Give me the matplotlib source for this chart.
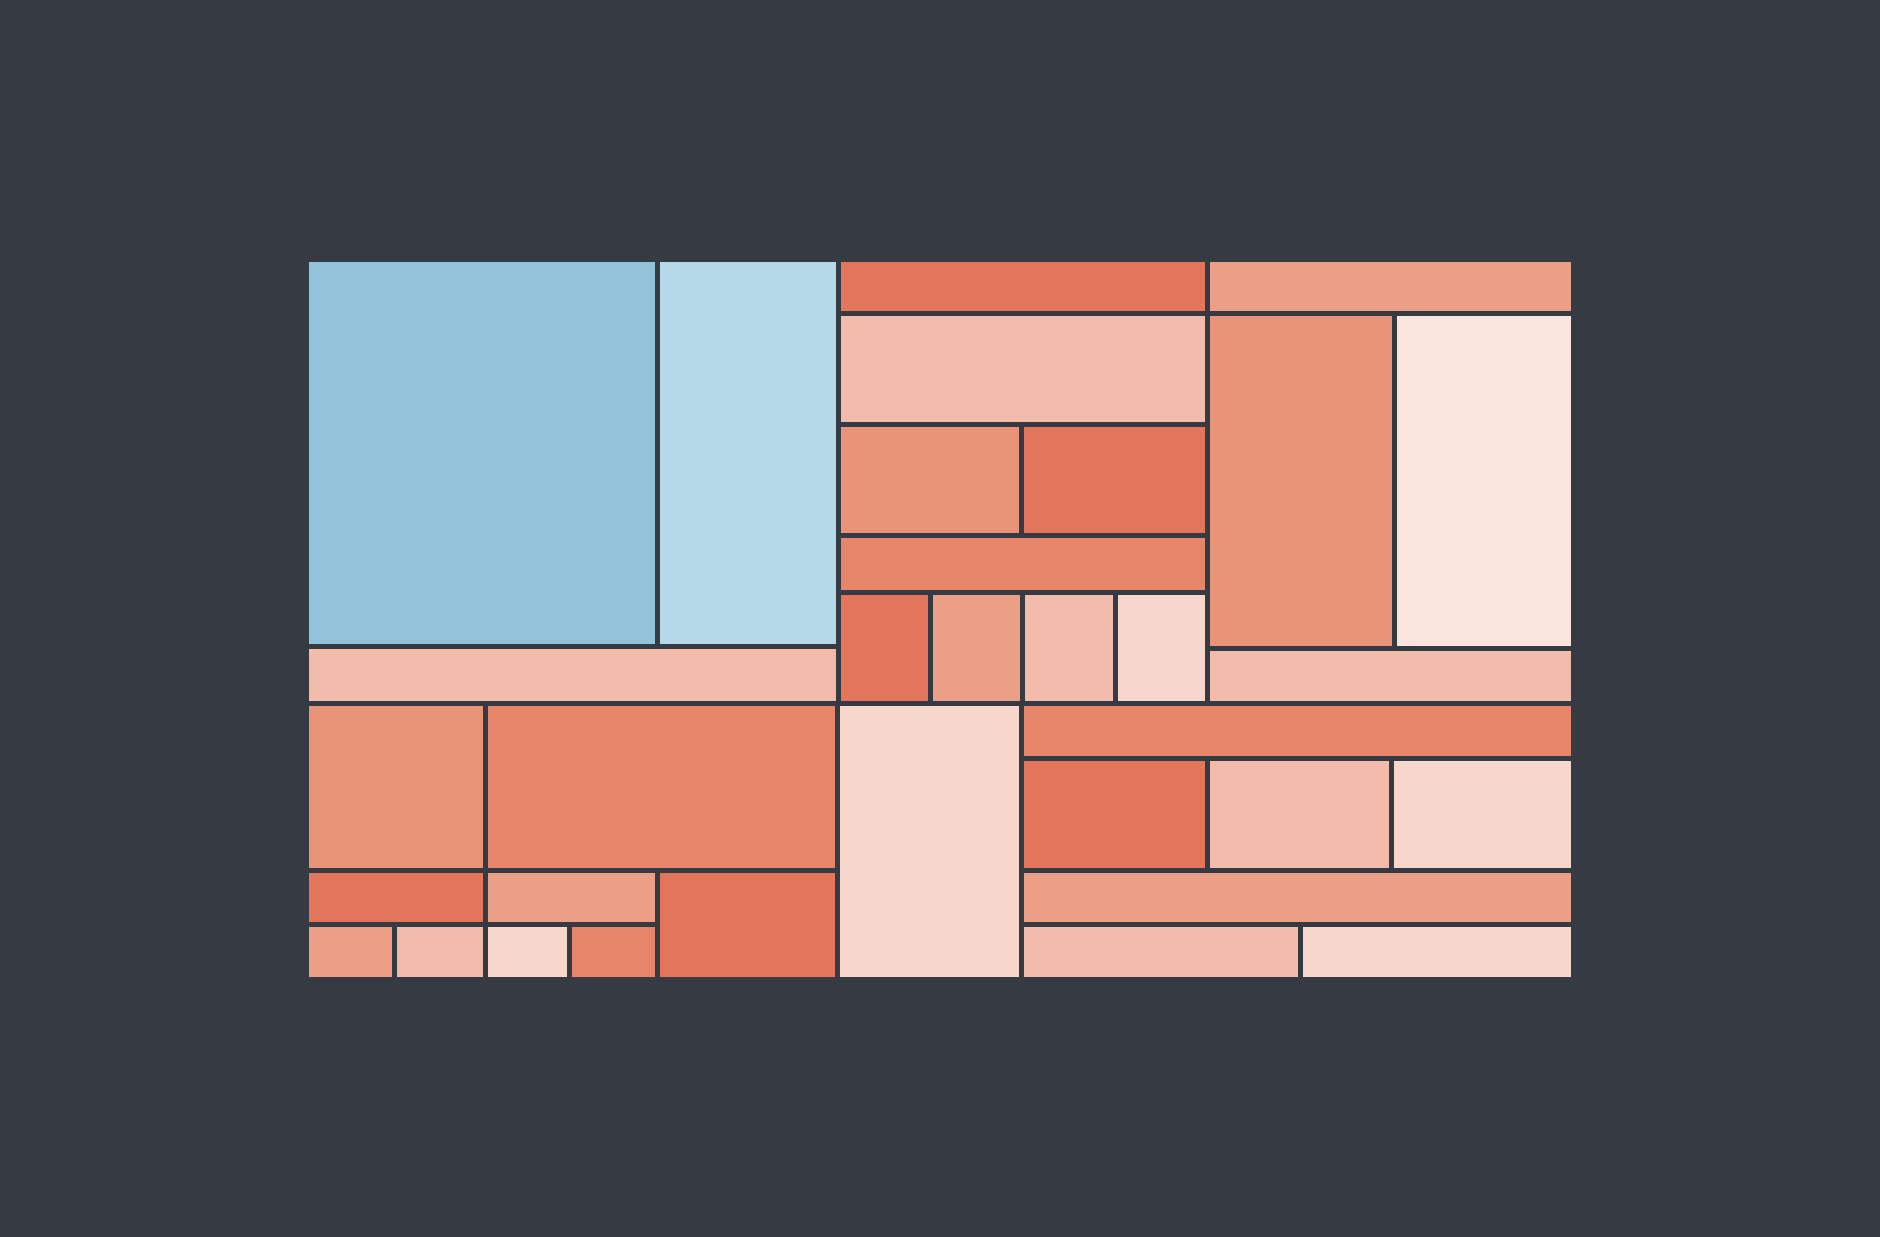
import matplotlib
matplotlib.use("Agg")

import matplotlib.pyplot as plt
from matplotlib.patches import Rectangle

# 背景と枠線の色
BG = "#363a43"

# 各グループの値（面積に比例）
top_left_blue = [13.44, 6.93]
top_left_band = 2.96
top_mid_rows = [1.99, 4.05]
top_mid_pair = [2.01, 2.04]
top_mid_band = 2.10
top_mid_quad = [1.01, 1.00, 1.02, 1.01]
top_right_band_a = 1.97
top_right_pair = [6.19, 5.96]
top_right_band_b = 1.97
bot_left_pair = [2.95, 5.83]
bot_left_small_pair = [0.96, 0.92]
bot_left_quad = [0.47, 0.49, 0.45, 0.47]
bot_left_corner = 1.94
bot_mid = 5.01
bot_right_band_a = 3.03
bot_right_triple = [2.05, 2.04, 2.01]
bot_right_band_b = 2.97
bot_right_pair = [1.50, 1.47]

# 葉の色（深さ優先の順）
leaf_colors = [
    "#92c3db", "#b5d8e8", "#f2bbab",
    "#e3765a", "#f2bbab", "#e99378", "#e3765a", "#e6856a",
    "#e3765a", "#eb9f86", "#f2bbab", "#f7d6cc",
    "#eb9f86", "#e99378", "#fae5de", "#f2bbab",
    "#e99378", "#e6856a", "#e3765a", "#eb9f86",
    "#eb9f86", "#f2bbab", "#f7d6cc", "#e6856a", "#e3765a",
    "#f7d6cc",
    "#e6856a", "#e3765a", "#f2bbab", "#f7d6cc", "#eb9f86",
    "#f2bbab", "#f7d6cc",
]

# 入れ子構造（深さごとに縦・横を交互に分割）
tree = [
    [  # 上段
        [top_left_blue, top_left_band],
        [top_mid_rows[0], top_mid_rows[1], top_mid_pair, top_mid_band, top_mid_quad],
        [top_right_band_a, top_right_pair, top_right_band_b],
    ],
    [  # 下段
        [bot_left_pair, [[bot_left_small_pair, bot_left_quad], bot_left_corner]],
        bot_mid,
        [bot_right_band_a, bot_right_triple, bot_right_band_b, bot_right_pair],
    ],
]


def total(node):
    if isinstance(node, list):
        return sum(total(c) for c in node)
    return node


def layout(node, x, y, w, h, vertical, out):
    if not isinstance(node, list):
        out.append((x, y, w, h))
        return
    s = total(node)
    pos = 0.0
    for child in node:
        f = total(child) / s
        if vertical:
            layout(child, x, y + pos * h, w, f * h, not vertical, out)
        else:
            layout(child, x + pos * w, y, f * w, h, not vertical, out)
        pos += f


rects = []
layout(tree, 0.0, 0.0, 1.0, 1.0, True, rects)

W, H = 1881, 1237
fig = plt.figure(figsize=(W / 100, H / 100), dpi=100, facecolor=BG)
ax = fig.add_axes([306.5 / W, (H - 978.5) / H, 1267 / W, 720 / H])
ax.set_facecolor(BG)
ax.set_xlim(0, 1)
ax.set_ylim(1, 0)
ax.axis("off")

for (x, y, w, h), c in zip(rects, leaf_colors):
    ax.add_patch(Rectangle((x, y), w, h, facecolor=c, edgecolor=BG, linewidth=3.6))

fig.savefig("out.png", dpi=100, facecolor=BG)
